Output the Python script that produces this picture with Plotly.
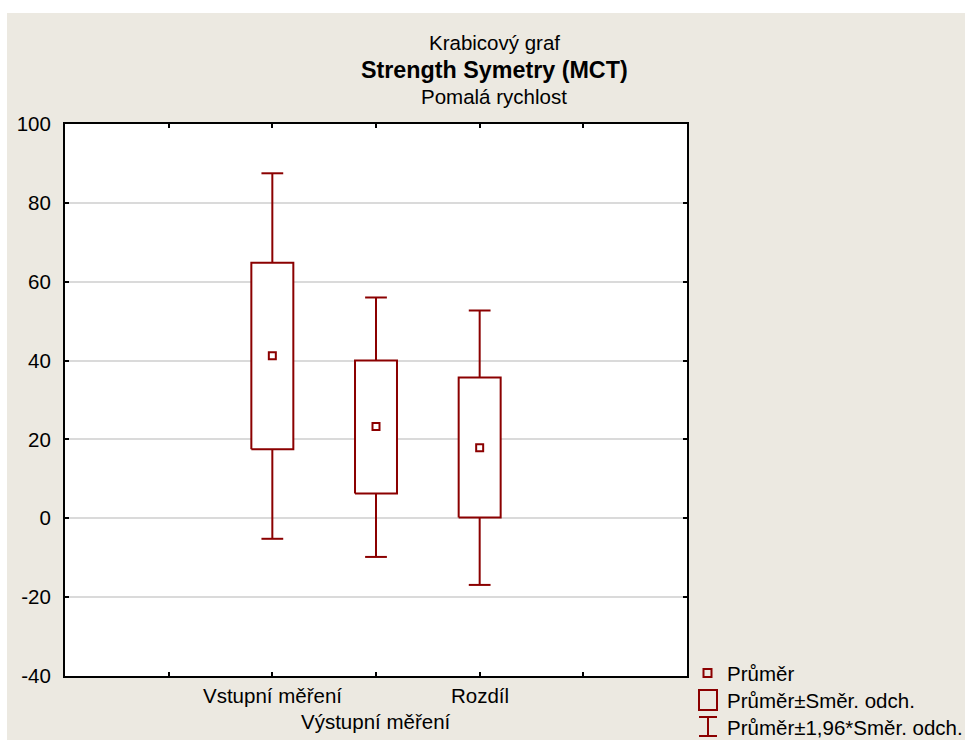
import plotly.graph_objects as go

# ---- data ----
categories = ["Vstupní měření", "Výstupní měření", "Rozdíl"]
means = [41.2, 23.3, 17.9]
sd_low = [17.5, 6.3, 0.2]
sd_high = [64.8, 40.0, 35.7]
ci_low = [-5.2, -9.8, -16.9]
ci_high = [87.5, 56.0, 52.7]
y_ticks = [-40, -20, 0, 20, 40, 60, 80, 100]
y_tick_labels = ["-40", "-20", "0", "20", "40", "60", "80", "100"]
legend_labels = ["Průměr", "Průměr±Směr. odch.", "Průměr±1,96*Směr. odch."]
title_lines = ["Krabicový graf", "<b>Strength Symetry (MCT)</b>", "Pomalá rychlost"]

# ---- styling ----
RED = "#8B0000"
BEIGE = "#ECE9E1"
FONT = "Arial, Liberation Sans, sans-serif"
FS = 20.5
W, H = 965, 740
L, R, T, B = 65, 278, 124, 64
PW, PH = W - L - R, H - T - B
BOX_HALF = 0.2025
CAP_HALF = 0.105

def px(x):
    return (x - L) / PW

def py(y):
    return (H - B - y) / PH

xpos = [i + 2 for i in range(len(categories))]

# build box rectangles and whiskers from the data arrays
bx, by = [], []
wx, wy = [], []
for x, lo, hi, clo, chi in zip(xpos, sd_low, sd_high, ci_low, ci_high):
    bx += [x - BOX_HALF, x + BOX_HALF, x + BOX_HALF, x - BOX_HALF, x - BOX_HALF, None]
    by += [lo, lo, hi, hi, lo, None]
    wx += [x, x, None, x, x, None, x - CAP_HALF, x + CAP_HALF, None, x - CAP_HALF, x + CAP_HALF, None]
    wy += [hi, chi, None, lo, clo, None, chi, chi, None, clo, clo, None]

fig = go.Figure()
fig.add_trace(go.Scatter(x=wx, y=wy, mode="lines", line=dict(color=RED, width=2),
                         showlegend=False, hoverinfo="skip"))
fig.add_trace(go.Scatter(x=bx, y=by, mode="lines", fill="toself", fillcolor="white",
                         line=dict(color=RED, width=2), showlegend=False, hoverinfo="skip"))
fig.add_trace(go.Scatter(
    x=xpos, y=means, mode="markers",
    marker=dict(symbol="square-open", size=7, color=RED, line=dict(color=RED, width=2)),
    showlegend=False, hoverinfo="skip",
))

shapes = []
# white page strips (top, left)
shapes.append(dict(type="rect", xref="paper", yref="paper", x0=px(0), x1=px(W), y0=py(13), y1=py(0),
                   fillcolor="white", line=dict(width=0), layer="below"))
shapes.append(dict(type="rect", xref="paper", yref="paper", x0=px(0), x1=px(7), y0=py(H), y1=py(0),
                   fillcolor="white", line=dict(width=0), layer="below"))
# legend icons
shapes.append(dict(type="rect", xref="paper", yref="paper", x0=px(703.5), x1=px(711.5), y0=py(677), y1=py(669),
                   line=dict(color=RED, width=2)))
shapes.append(dict(type="rect", xref="paper", yref="paper", x0=px(699), x1=px(717), y0=py(710), y1=py(690),
                   line=dict(color=RED, width=2)))
shapes.append(dict(type="line", xref="paper", yref="paper", x0=px(708), x1=px(708), y0=py(736), y1=py(717),
                   line=dict(color=RED, width=2)))
shapes.append(dict(type="line", xref="paper", yref="paper", x0=px(699), x1=px(717), y0=py(717), y1=py(717),
                   line=dict(color=RED, width=2)))
shapes.append(dict(type="line", xref="paper", yref="paper", x0=px(699), x1=px(717), y0=py(736), y1=py(736),
                   line=dict(color=RED, width=2)))

annotations = []
title_y = [42, 70, 97]
for i, t in enumerate(title_lines):
    annotations.append(dict(text=t, xref="paper", yref="paper", x=px(494), y=py(title_y[i]),
                            xanchor="center", yanchor="middle", showarrow=False,
                            font=dict(size=23.3 if i == 1 else FS, color="black", family=FONT)))
label_y = [695, 721, 695]
for i, c in enumerate(categories):
    annotations.append(dict(text=c, xref="x", yref="paper", x=xpos[i], y=py(label_y[i]),
                            xanchor="center", yanchor="middle", showarrow=False,
                            font=dict(size=FS, color="black", family=FONT)))
leg_y = [673, 700, 727]
for i, t in enumerate(legend_labels):
    annotations.append(dict(text=t, xref="paper", yref="paper", x=px(725), y=py(leg_y[i]),
                            xanchor="left", yanchor="middle", showarrow=False,
                            font=dict(size=FS, color="black", family=FONT)))

fig.update_layout(
    width=W, height=H,
    margin=dict(l=L, r=R, t=T, b=B, pad=0),
    paper_bgcolor=BEIGE, plot_bgcolor="white",
    font=dict(family=FONT, size=FS, color="black"),
    shapes=shapes, annotations=annotations,
    xaxis=dict(range=[0, 6], tickvals=[1, 2, 3, 4, 5], showticklabels=False,
               ticks="inside", ticklen=4, tickwidth=1.5, tickcolor="black",
               showline=True, linecolor="black", linewidth=2, mirror="ticks",
               showgrid=False, zeroline=False, fixedrange=True),
    yaxis=dict(range=[-40, 100], tickvals=y_ticks, ticktext=y_tick_labels,
               ticks="inside", ticklen=4, tickwidth=1.5,
               tickcolor="black", showline=True, linecolor="black", linewidth=2, mirror="ticks",
               showgrid=True, gridcolor="#DADADA", gridwidth=2, zeroline=False,
               tickfont=dict(size=FS, family=FONT), ticklabelstandoff=8, fixedrange=True),
    showlegend=False,
)

fig.write_html("out.html", config={"displayModeBar": False},
               post_script="document.body.style.margin='0';document.body.style.overflow='hidden';")
